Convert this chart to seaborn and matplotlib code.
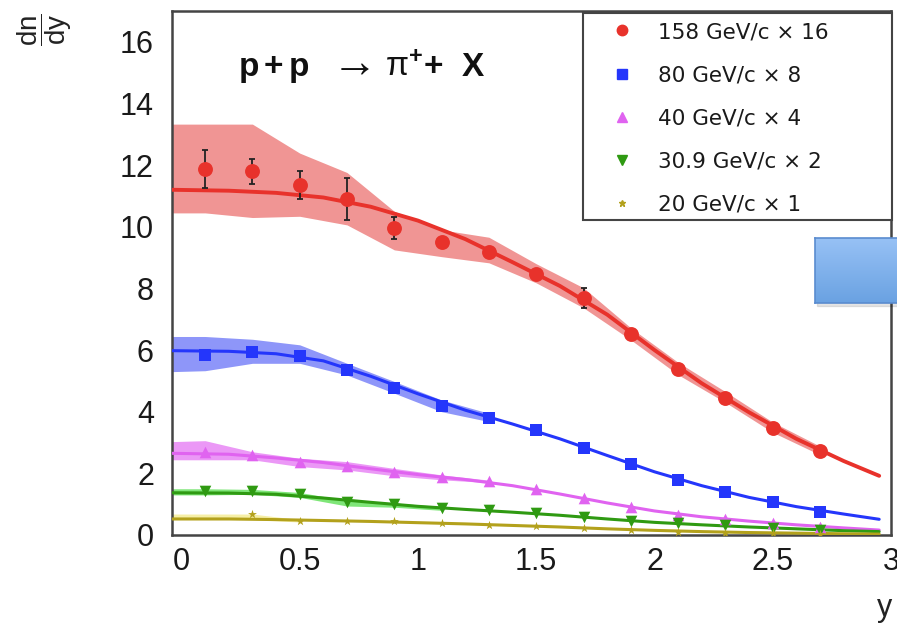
import numpy as np
import pandas as pd
import matplotlib
matplotlib.use("Agg")
import matplotlib.pyplot as plt
import seaborn as sns
from matplotlib.lines import Line2D
from matplotlib.ticker import MultipleLocator
from matplotlib.colors import LinearSegmentedColormap
from matplotlib.patches import Rectangle

# ---------------- data ----------------
x_pts = [0.1, 0.3, 0.5, 0.7, 0.9, 1.1, 1.3, 1.5, 1.7, 1.9, 2.1, 2.3, 2.5, 2.7]

red_vals = [11.88, 11.80, 11.35, 10.90, 9.95, 9.49, 9.18, 8.46, 7.68, 6.53, 5.39, 4.46, 3.48, 2.74]
red_err = [0.62, 0.40, 0.45, 0.67, 0.36, 0.08, 0.08, 0.08, 0.33, 0.08, 0.08, 0.06, 0.06, 0.05]
blue_vals = [5.84, 5.95, 5.81, 5.36, 4.76, 4.17, 3.79, 3.41, 2.81, 2.29, 1.79, 1.41, 1.06, 0.76]
mag_vals = [2.70, 2.58, 2.36, 2.24, 2.04, 1.89, 1.75, 1.48, 1.19, 0.90, 0.66, 0.53, 0.40, 0.27]
green_vals = [1.44, 1.44, 1.32, 1.08, 1.00, 0.88, 0.82, 0.72, 0.59, 0.45, 0.38, 0.31, 0.23, 0.17]
olive_x = [0.3, 0.5, 0.7, 0.9, 1.1, 1.3, 1.5, 1.7, 1.9, 2.1, 2.3, 2.5, 2.7]
olive_vals = [0.68, 0.44, 0.44, 0.46, 0.38, 0.34, 0.29, 0.24, 0.16, 0.11, 0.07, 0.05, 0.03]

fit_x = [-0.04, 0.2, 0.4, 0.6, 0.8, 1.0, 1.2, 1.4, 1.6, 1.8, 2.0, 2.2, 2.4, 2.6, 2.8, 2.95]
red_fit = [11.2, 11.17, 11.1, 10.95, 10.65, 10.2, 9.6, 8.85, 8.08, 7.15, 6.0, 4.92, 3.98, 3.12, 2.4, 1.92]
blue_fit = [5.98, 5.96, 5.88, 5.65, 5.15, 4.58, 4.05, 3.6, 3.12, 2.58, 2.05, 1.6, 1.22, 0.92, 0.68, 0.51]
mag_fit = [2.65, 2.62, 2.5, 2.35, 2.15, 1.96, 1.8, 1.6, 1.33, 1.04, 0.78, 0.59, 0.45, 0.33, 0.23, 0.16]
green_fit = [1.37, 1.36, 1.32, 1.2, 1.06, 0.93, 0.83, 0.74, 0.64, 0.52, 0.41, 0.33, 0.26, 0.2, 0.14, 0.11]
olive_fit = [0.52, 0.52, 0.5, 0.47, 0.44, 0.4, 0.36, 0.31, 0.26, 0.2, 0.15, 0.11, 0.08, 0.06, 0.04, 0.03]

red_band_x = [-0.04, 0.1, 0.3, 0.5, 0.7, 0.9, 1.1, 1.3, 1.5, 1.7, 1.9, 2.1, 2.3, 2.5, 2.7]
red_hi = [13.33, 13.33, 13.33, 12.39, 11.76, 10.5, 9.9, 9.66, 8.8, 8.02, 6.72, 5.6, 4.65, 3.66, 2.88]
red_lo = [10.45, 10.45, 10.3, 10.34, 10.06, 9.25, 9.03, 8.83, 8.18, 7.37, 6.33, 5.2, 4.3, 3.33, 2.6]
blue_band_x = [-0.04, 0.1, 0.3, 0.5, 0.7, 0.9, 1.1, 1.3]
blue_hi = [6.44, 6.44, 6.35, 6.17, 5.57, 4.98, 4.38, 3.95]
blue_lo = [5.3, 5.33, 5.57, 5.57, 5.19, 4.6, 4.0, 3.68]
mag_band_x = [-0.04, 0.1, 0.3, 0.5, 0.7, 0.9, 1.1, 1.3]
mag_hi = [3.03, 3.06, 2.7, 2.49, 2.38, 2.16, 1.95, 1.78]
mag_lo = [2.44, 2.44, 2.44, 2.22, 2.11, 1.92, 1.79, 1.7]
green_band_x = [-0.04, 0.1, 0.3, 0.5, 0.7, 0.9, 1.1]
green_hi = [1.5, 1.5, 1.48, 1.38, 1.12, 1.04, 0.92]
green_lo = [1.3, 1.3, 1.32, 1.22, 0.94, 0.9, 0.8]
olive_band_x = [-0.04, 0.1, 0.3, 0.5]
olive_hi = [0.68, 0.68, 0.68, 0.5]
olive_lo = [0.5, 0.5, 0.5, 0.42]

labels = ["158 GeV/c \u00d7 16", "80 GeV/c \u00d7 8", "40 GeV/c \u00d7 4",
          "30.9 GeV/c \u00d7 2", "20 GeV/c \u00d7 1"]
x_ticks = [0, 0.5, 1, 1.5, 2, 2.5, 3]
x_tick_labels = ["0", "0.5", "1", "1.5", "2", "2.5", "3"]
y_ticks = [0, 2, 4, 6, 8, 10, 12, 14, 16]

# ---------------- style ----------------
sns.set_theme(style="white")
plt.rcParams["font.family"] = ["Liberation Sans", "DejaVu Sans"]
plt.rcParams["mathtext.fontset"] = "custom"
plt.rcParams["mathtext.rm"] = "Liberation Sans"
plt.rcParams["mathtext.it"] = "Liberation Sans:italic"
plt.rcParams["mathtext.bf"] = "Liberation Sans:bold"

colors = ["#e8322b", "#2436fb", "#e063f0", "#2f9a12", "#b3a11c"]
band_colors = ["#f09594", "#8e96f9", "#eb98f6", "#7fe678", "#f6efa6"]
markers = ["o", "s", "^", "v", "*"]
msizes = [115, 85, 70, 70, 45]
line_widths = [2.8, 2.2, 2.2, 2.2, 2.2]

fig = plt.figure(figsize=(8.97, 6.24), dpi=100)
ax = fig.add_axes([172 / 897, 1 - 535 / 624, 719 / 897, 524 / 624])

# bands
bands = [(red_band_x, red_lo, red_hi), (blue_band_x, blue_lo, blue_hi),
         (mag_band_x, mag_lo, mag_hi), (green_band_x, green_lo, green_hi),
         (olive_band_x, olive_lo, olive_hi)]
for (bx, lo, hi), bc in zip(bands, band_colors):
    ax.fill_between(bx, lo, hi, color=bc, lw=0, zorder=1)

# fit curves
fits = [red_fit, blue_fit, mag_fit, green_fit, olive_fit]
for lab, fv, c, lw in zip(labels, fits, colors, line_widths):
    df = pd.DataFrame({"y": fit_x, "val": fv})
    sns.lineplot(data=df, x="y", y="val", ax=ax, color=c, linewidth=lw,
                 sort=False, zorder=3, legend=False)

# error bars
ax.errorbar(x_pts, red_vals, yerr=red_err, fmt="none", ecolor="#222222",
            elinewidth=1.3, capsize=2.5, capthick=1.3, zorder=4)

# markers
pts = [(x_pts, red_vals), (x_pts, blue_vals), (x_pts, mag_vals),
       (x_pts, green_vals), (olive_x, olive_vals)]
for (px, py), c, m, s in zip(pts, colors, markers, msizes):
    sns.scatterplot(x=px, y=py, ax=ax, color=c, marker=m, s=s, linewidth=0, zorder=5)

# axes
ax.set_xlim(-0.04, 3.0)
ax.set_ylim(0, 17)
ax.set_xticks(x_ticks)
ax.set_xticklabels(x_tick_labels)
ax.set_yticks(y_ticks)
ax.xaxis.set_minor_locator(MultipleLocator(0.1))
ax.yaxis.set_minor_locator(MultipleLocator(0.5))
ax.tick_params(which="both", direction="in", top=False, right=False,
               color="#333333", width=1.4, labelsize=22, labelcolor="#1a1a1a")
ax.tick_params(axis="y", which="major", length=16, pad=13)
ax.tick_params(axis="y", which="minor", length=7)
ax.tick_params(axis="x", which="major", length=10, pad=9)
ax.tick_params(axis="x", which="minor", length=4.5)
for sp in ax.spines.values():
    sp.set_color("#444444")
    sp.set_linewidth(1.8)
ax.set_xlabel("")
ax.set_ylabel("")

# title text, built from pieces (pixel positions converted to axes fractions)
def axfx(px):
    return (px - 172) / 719

base_y = (535 - 76) / 524
ax.text(axfx(238), base_y, r"$\mathbf{p+p}$", transform=ax.transAxes, fontsize=24,
        ha="left", va="baseline", color="#111111")
ax.text(axfx(324), base_y, r"$\rightarrow$", transform=ax.transAxes, fontsize=33,
        ha="left", va="baseline", color="#111111")
ax.text(axfx(385), base_y, r"$\mathrm{\pi}^{\mathbf{+}}$", transform=ax.transAxes,
        fontsize=24, ha="left", va="baseline", color="#111111")
ax.text(axfx(424), base_y, "+  X", transform=ax.transAxes, fontsize=24,
        fontweight="bold", ha="left", va="baseline", color="#111111")

# legend box (fixed ROOT-like box) + frameless legend
ax.add_patch(Rectangle((0.5716, 0.6011), 1.0014 - 0.5716, 0.9962 - 0.6011,
                       transform=ax.transAxes, facecolor="white", edgecolor="#444444",
                       linewidth=1.5, zorder=6, clip_on=False))
handles = [Line2D([], [], ls="none", marker=m, color=c, markersize=ms)
           for m, c, ms in zip(markers, colors, [7.5, 6.5, 6.5, 6.5, 5])]
leg = ax.legend(handles, labels, loc="upper left", bbox_to_anchor=(0.6099, 0.979),
                frameon=False, prop={"family": "DejaVu Sans", "size": 15.5},
                labelspacing=1.07, handletextpad=1.16, borderpad=0,
                handlelength=1.06, borderaxespad=0)
leg.set_zorder(7)
for t in leg.get_texts():
    t.set_color("#1a1a1a")

# axis titles
fig.text(45 / 897, 1 - 30 / 624, r"$\dfrac{\mathrm{dn}}{\mathrm{dy}}$", rotation=90,
         fontsize=20, ha="center", va="center", color="#222222")
fig.text(892 / 897, 1 - 616 / 624, "y", ha="right", va="baseline", fontsize=22, color="#222222")

# overlay box at right edge
bax = fig.add_axes([815 / 897, 1 - 303 / 624, 85 / 897, 65 / 624], zorder=10)
grad = np.linspace(0, 1, 64).reshape(-1, 1)
cmap = LinearSegmentedColormap.from_list("g", ["#97c1f5", "#6aa2e2"])
bax.imshow(grad, aspect="auto", cmap=cmap, extent=[0, 1, 0, 1], origin="upper")
bax.set_xticks([])
bax.set_yticks([])
for sp in bax.spines.values():
    sp.set_color("#5a8ccf")
    sp.set_linewidth(1.2)
fig.patches.append(Rectangle((817 / 897, 1 - 306 / 624), 85 / 897, 65 / 624,
                             transform=fig.transFigure, color="#000000", alpha=0.10,
                             zorder=9))

fig.savefig("out.png", dpi=100, facecolor="white")
